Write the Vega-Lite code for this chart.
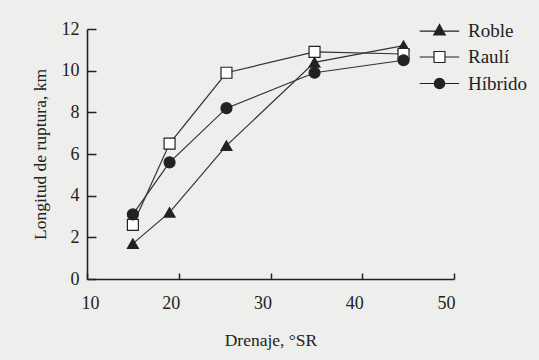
{
  "$schema": "https://vega.github.io/schema/vega-lite/v6.json",
  "width": 367,
  "height": 250,
  "autosize": {"type": "none"},
  "padding": {"left": 87, "top": 29, "right": 85, "bottom": 81},
  "background": "#eeeeec",
  "config": {
    "view": {"stroke": null},
    "font": "Liberation Serif",
    "legend": {
      "labelFont": "Liberation Serif",
      "labelFontSize": 19,
      "labelColor": "#222",
      "labelOffset": 19,
      "rowPadding": 6.5,
      "symbolSize": 120,
      "symbolStrokeWidth": 1.2
    },
    "axis": {
      "labelFont": "Liberation Serif",
      "titleFont": "Liberation Serif",
      "labelFontSize": 18,
      "titleFontSize": 17.5,
      "titleFontWeight": "normal",
      "labelColor": "#222",
      "titleColor": "#222",
      "domainColor": "#222",
      "domainWidth": 1.6,
      "tickColor": "#222",
      "tickWidth": 1.5,
      "ticks": true,
      "labelFlush": false,
      "grid": false
    }
  },
  "data": {
    "values": [
      {"serie": "Roble", "drenaje": 15, "longitud": 1.7},
      {"serie": "Roble", "drenaje": 19, "longitud": 3.2},
      {"serie": "Roble", "drenaje": 25.2, "longitud": 6.4},
      {"serie": "Roble", "drenaje": 34.8, "longitud": 10.4},
      {"serie": "Roble", "drenaje": 44.5, "longitud": 11.2},
      {"serie": "Raulí", "drenaje": 15, "longitud": 2.6},
      {"serie": "Raulí", "drenaje": 19, "longitud": 6.5},
      {"serie": "Raulí", "drenaje": 25.2, "longitud": 9.9},
      {"serie": "Raulí", "drenaje": 34.8, "longitud": 10.9},
      {"serie": "Raulí", "drenaje": 44.5, "longitud": 10.8},
      {"serie": "Híbrido", "drenaje": 15, "longitud": 3.1},
      {"serie": "Híbrido", "drenaje": 19, "longitud": 5.6},
      {"serie": "Híbrido", "drenaje": 25.2, "longitud": 8.2},
      {"serie": "Híbrido", "drenaje": 34.8, "longitud": 9.9},
      {"serie": "Híbrido", "drenaje": 44.5, "longitud": 10.5}
    ]
  },
  "encoding": {
    "x": {
      "field": "drenaje", "type": "quantitative",
      "scale": {"domain": [10, 50], "nice": false, "zero": false},
      "axis": {
        "title": "Drenaje, °SR",
        "values": [10, 20, 30, 40, 50],
        "tickSize": -6,
        "labelPadding": 21,
        "labelOffset": {"condition": {"test": "datum.value == 10", "value": 3}, "value": -8},
        "titlePadding": 19
      }
    },
    "y": {
      "field": "longitud", "type": "quantitative",
      "scale": {"domain": [0, 12], "nice": false},
      "axis": {
        "title": "Longitud de ruptura, km",
        "values": [0, 2, 4, 6, 8, 10, 12],
        "tickSize": -9,
        "labelPadding": 17,
        "titlePadding": 12
      }
    }
  },
  "resolve": {"scale": {"shape": "independent", "fill": "independent"}},
  "layer": [
    {
      "mark": {"type": "line", "stroke": "#333", "strokeWidth": 1.2},
      "encoding": {"detail": {"field": "serie"}}
    },
    {
      "mark": {"type": "point", "color": "#222", "stroke": "#222", "strokeWidth": 1.2, "size": 120, "opacity": 1},
      "encoding": {
        "shape": {
          "field": "serie", "type": "nominal",
          "scale": {"domain": ["Roble", "Raulí", "Híbrido"], "range": ["triangle-up", "square", "circle"]},
          "legend": null
        },
        "fill": {
          "field": "serie", "type": "nominal",
          "scale": {"domain": ["Roble", "Raulí", "Híbrido"], "range": ["#222", "#ffffff", "#222"]},
          "legend": null
        }
      }
    },
    {
      "transform": [{"filter": "datum.drenaje > 1000"}],
      "mark": {"type": "point", "color": "#222", "stroke": "#222", "strokeWidth": 1.2, "size": 120, "opacity": 1},
      "encoding": {
        "shape": {
          "field": "serie", "type": "nominal",
          "scale": {
            "domain": ["Roble", "Raulí", "Híbrido"],
            "range": [
              "M-3.6,0.1H3.6M0,-1.1L1.05,0.8H-1.05Z",
              "M-3.6,0H-1M1,0H3.6M-1,-1H1V1H-1Z",
              "M-3.6,0H3.6M0.95,0A0.95,0.95 0 1,1 -0.95,0A0.95,0.95 0 1,1 0.95,0Z"
            ]
          },
          "legend": {"title": null, "orient": "none", "legendX": 343, "legendY": -8}
        },
        "fill": {
          "field": "serie", "type": "nominal",
          "scale": {"domain": ["Roble", "Raulí", "Híbrido"], "range": ["#222", "#ffffff", "#222"]},
          "legend": {"title": null, "orient": "none", "legendX": 343, "legendY": -8}
        }
      }
    }
  ]
}
